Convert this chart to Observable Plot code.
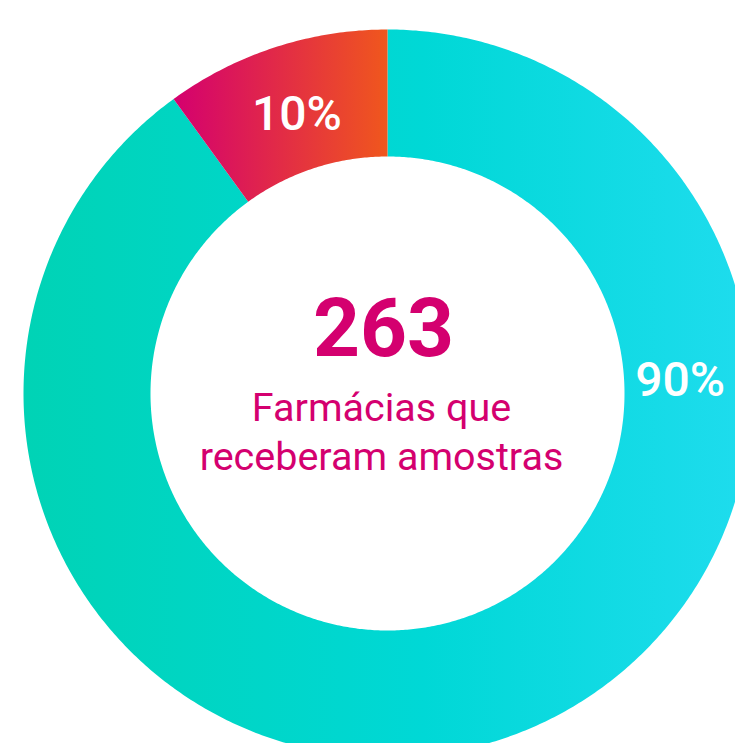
<!DOCTYPE html>
<html>
<head>
<meta charset="utf-8">
<script src="https://cdn.jsdelivr.net/npm/d3@7"></script>
<script src="https://cdn.jsdelivr.net/npm/@observablehq/plot@0.6"></script>
<style>
  html, body { margin: 0; padding: 0; background: #fff; overflow: hidden; }
  #chart svg { display: block; overflow: hidden; }
</style>
</head>
<body>
<div id="chart"></div>
<script>
// ---- data ----
const sliceNames = ["Restantes", "Destaque"];
const shares = [90, 10];
const shareLabels = ["90%", "10%"];
const totalValue = "263";
const totalCaption = "Farmácias que\nreceberam amostras";

// ---- styling ----
const W = 735, H = 743;
const cx = 387, cy = 393;          // ring centre in pixels
const R = 364, r = 237;            // outer / inner radius
const gradients = [
  [["0", "#00d3b5"], ["0.55", "#00d8d6"], ["1", "#1fdcee"]],
  [["0", "#d4006f"], ["1", "#f0571d"]]
];
const pink = "#d4006f";
const font = "Roboto, 'DejaVu Sans', sans-serif";

// slices
const pie = d3.pie().sort(null).value(d => d)(shares);
const slices = pie.map((p, i) => {
  const pts = [];
  const n = Math.max(8, Math.ceil((p.endAngle - p.startAngle) * 180 / Math.PI * 2));
  for (let k = 0; k <= n; k++) {
    const a = p.startAngle + (p.endAngle - p.startAngle) * k / n;
    pts.push({x: R * Math.sin(a), y: R * Math.cos(a)});
  }
  for (let k = n; k >= 0; k--) {
    const a = p.startAngle + (p.endAngle - p.startAngle) * k / n;
    pts.push({x: r * Math.sin(a), y: r * Math.cos(a)});
  }
  // label: small slice at its mid-angle, large slice near 3 o'clock
  const mid = (p.endAngle - p.startAngle) < Math.PI ? (p.startAngle + p.endAngle) / 2 : Math.PI / 2 - 0.045;
  const lr = 293;
  return {name: sliceNames[i], pts, label: shareLabels[i], lx: lr * Math.sin(mid), ly: lr * Math.cos(mid)};
});

const marks = slices.map((s, i) =>
  Plot.line(s.pts, {x: "x", y: "y", fill: `url(#grad${i})`, stroke: "none", curve: "linear"})
);
marks.push(
  Plot.text(slices, {x: "lx", y: "ly", text: "label", fill: "white", fontSize: 48, fontWeight: 500, fontFamily: font, textAnchor: "middle", lineAnchor: "middle"}),
  Plot.text([totalValue], {x: 0, y: cy - 355, text: d => d, dx: -4, fill: pink, fontSize: 82, fontWeight: 700, fontFamily: font, textAnchor: "middle", lineAnchor: "bottom"}),
  Plot.text([totalCaption], {x: 0, y: cy - 469, text: d => d, dx: -6, fill: pink, fontSize: 39.5, fontWeight: 400, fontFamily: font, lineHeight: 1.24, textAnchor: "middle", lineAnchor: "bottom"})
);

const chart = Plot.plot({
  width: W,
  height: H,
  margin: 0,
  x: {domain: [-cx, W - cx], range: [0, W], axis: null},
  y: {domain: [cy, cy - H], range: [0, H], axis: null},
  style: {background: "white"},
  marks
});

// gradient definitions (horizontal across each slice's bounding box)
const svg = d3.select(chart);
const defs = svg.insert("defs", ":first-child");
gradients.forEach((g, i) => {
  const lg = defs.append("linearGradient").attr("id", `grad${i}`).attr("x1", "0").attr("x2", "1").attr("y1", "0").attr("y2", "0");
  g.forEach(([off, col]) => lg.append("stop").attr("offset", off).attr("stop-color", col));
});

document.getElementById("chart").appendChild(chart);
</script>
</body>
</html>
